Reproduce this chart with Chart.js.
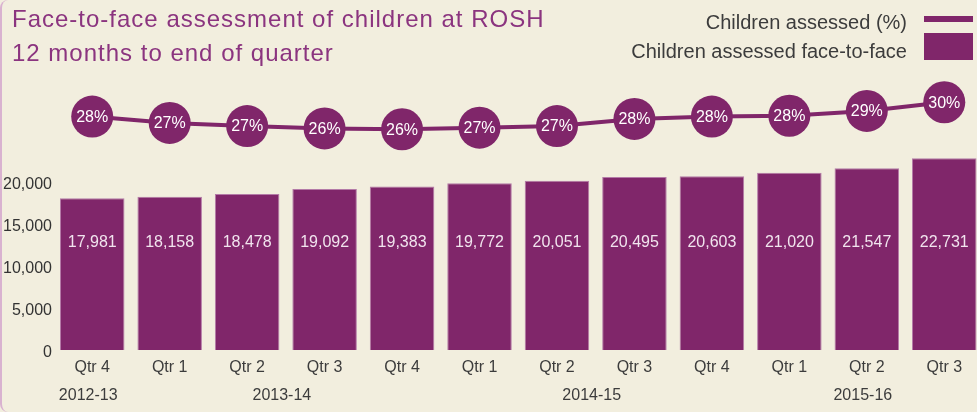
<!DOCTYPE html>
<html>
<head>
<meta charset="utf-8">
<title>Face-to-face assessment of children at ROSH</title>
<script src="https://cdn.jsdelivr.net/npm/chart.js@4.4.1/dist/chart.umd.min.js"></script>
<style>
    html, body { margin: 0; padding: 0; background: #f2eede; overflow: hidden; }
    #wrap { position: relative; width: 977px; height: 412px; overflow: hidden; background: #f2eede; font-family: 'Liberation Sans', Arial, sans-serif; }
    #edge { position: absolute; left: 0; top: 0; width: 10px; height: 412px; border-left: 2px solid #d9b2d0; border-radius: 8px 0 0 8px; box-sizing: border-box; }
    #title { position: absolute; left: 12px; top: 2px; font-size: 24px; line-height: 34px; letter-spacing: 1px; color: #8b347f; white-space: nowrap; }
    #legend { position: absolute; right: 70px; top: 8px; font-size: 20px; line-height: 29px; color: #3c3c3c; text-align: right; white-space: nowrap; }
    .swatch { position: absolute; left: 924px; width: 49px; background: #80266a; }
    #chartBox { position: absolute; left: 0; top: 0; }
</style>
</head>
<body>
<div id="wrap">
    <div id="edge"></div>
    <div id="chartBox"><canvas id="rosh-chart" width="1004" height="412"></canvas></div>
    <div id="title">Face-to-face assessment of children at ROSH<br>12 months to end of quarter</div>
    <div id="legend"></div>
    <div class="swatch" style="top:16px;height:6px"></div>
    <div class="swatch" style="top:33px;height:27px"></div>
</div>
<script>
const quarters = ['Qtr 4', 'Qtr 1', 'Qtr 2', 'Qtr 3', 'Qtr 4', 'Qtr 1', 'Qtr 2', 'Qtr 3', 'Qtr 4', 'Qtr 1', 'Qtr 2', 'Qtr 3'];
const years = ['2012-13', '2013-14', '2014-15', '2015-16'];
const quartersPerYear = [1, 4, 4, 3];
const seriesNames = ['Children assessed (%)', 'Children assessed face-to-face'];
const assessedCount = [17981, 18158, 18478, 19092, 19383, 19772, 20051, 20495, 20603, 21020, 21547, 22731];
const assessedPct = [27.9, 27.1, 26.7, 26.4, 26.3, 26.5, 26.7, 27.6, 27.9, 28.0, 28.6, 29.7];
const countTicks = [0, 5000, 10000, 15000, 20000];

const PURPLE = '#80266a';
const FONT = "'Liberation Sans', Arial, sans-serif";
let roshChart = null;

function fmtNum(v) {
    return String(v).replace(/\B(?=(\d{3})+(?!\d))/g, ',');
}

const valueLabels = {
    id: 'valueLabels',
    afterDatasetsDraw(chart) {
        const ctx = chart.ctx;
        const lineMeta = chart.getDatasetMeta(0);
        const barMeta = chart.getDatasetMeta(1);
        const x = chart.scales.x;
        ctx.save();
        ctx.font = '16px ' + FONT;
        ctx.textAlign = 'center';

        // counts inside the bars, all on one row
        ctx.fillStyle = '#f1e4ee';
        ctx.textBaseline = 'alphabetic';
        barMeta.data.forEach((bar, i) => {
            ctx.fillText(fmtNum(assessedCount[i]), bar.x, chart.chartArea.bottom - 103);
        });

        // percentages inside the circles
        ctx.fillStyle = '#ffffff';
        ctx.textBaseline = 'middle';
        lineMeta.data.forEach((pt, i) => {
            ctx.fillText(Math.round(assessedPct[i]) + '%', pt.x, pt.y + 1);
        });

        // financial years under the quarter labels
        ctx.fillStyle = '#3c3c3c';
        ctx.textBaseline = 'alphabetic';
        let start = 0;
        years.forEach((y, i) => {
            const end = start + quartersPerYear[i] - 1;
            const cx = (x.getPixelForValue(start) + x.getPixelForValue(end)) / 2;
            ctx.fillText(y, cx - 4, x.top + 50);
            start = end + 1;
        });
        ctx.restore();
    }
};

function renderLegend() {
    const el = document.getElementById('legend');
    el.innerHTML = seriesNames.map((n) => `<div>${n}</div>`).join('');
}

function renderRoshChart() {
    const canvas = document.getElementById('rosh-chart');
    if (!canvas) return;
    const ctx = canvas.getContext('2d');
    if (roshChart) roshChart.destroy();
    roshChart = new Chart(ctx, {
        type: 'bar',
        data: {
            labels: quarters,
            datasets: [{
                type: 'line',
                label: seriesNames[0],
                data: assessedPct,
                yAxisID: 'y2',
                order: 0,
                borderColor: PURPLE,
                borderWidth: 4,
                tension: 0,
                pointRadius: 21,
                pointHoverRadius: 21,
                pointBackgroundColor: PURPLE,
                pointBorderWidth: 0,
                clip: false
            }, {
                type: 'bar',
                label: seriesNames[1],
                data: assessedCount,
                yAxisID: 'y',
                order: 1,
                backgroundColor: PURPLE,
                borderColor: '#b47aa7',
                borderWidth: 1,
                categoryPercentage: 1,
                barPercentage: 0.833
            }]
        },
        options: {
            responsive: false,
            animation: false,
            // right padding is at least the point radius anyway; canvas is wider than the window
            layout: { padding: { top: 80, right: 21, bottom: 0, left: 0 } },
            plugins: { legend: { display: false }, tooltip: { enabled: false }, title: { display: false } },
            scales: {
                x: {
                    grid: { display: false, drawTicks: false },
                    border: { display: false },
                    ticks: { color: '#3c3c3c', font: { size: 16, family: FONT }, padding: 8, maxRotation: 0, autoSkip: false },
                    afterFit: (s) => { s.height = 62; }
                },
                y: {
                    min: 0,
                    max: 32000,
                    grid: { display: false, drawTicks: false },
                    border: { display: false },
                    afterBuildTicks: (s) => { s.ticks = countTicks.map((v) => ({ value: v })); },
                    ticks: { color: '#333333', font: { size: 16, family: FONT }, padding: 1.5, labelOffset: 3, callback: (v) => fmtNum(v) },
                    afterFit: (s) => { s.width = 53.5; }
                },
                y2: {
                    display: false,
                    min: -1.5,
                    max: 32.5
                }
            }
        },
        plugins: [valueLabels]
    });
}

renderLegend();
renderRoshChart();
</script>
</body>
</html>
